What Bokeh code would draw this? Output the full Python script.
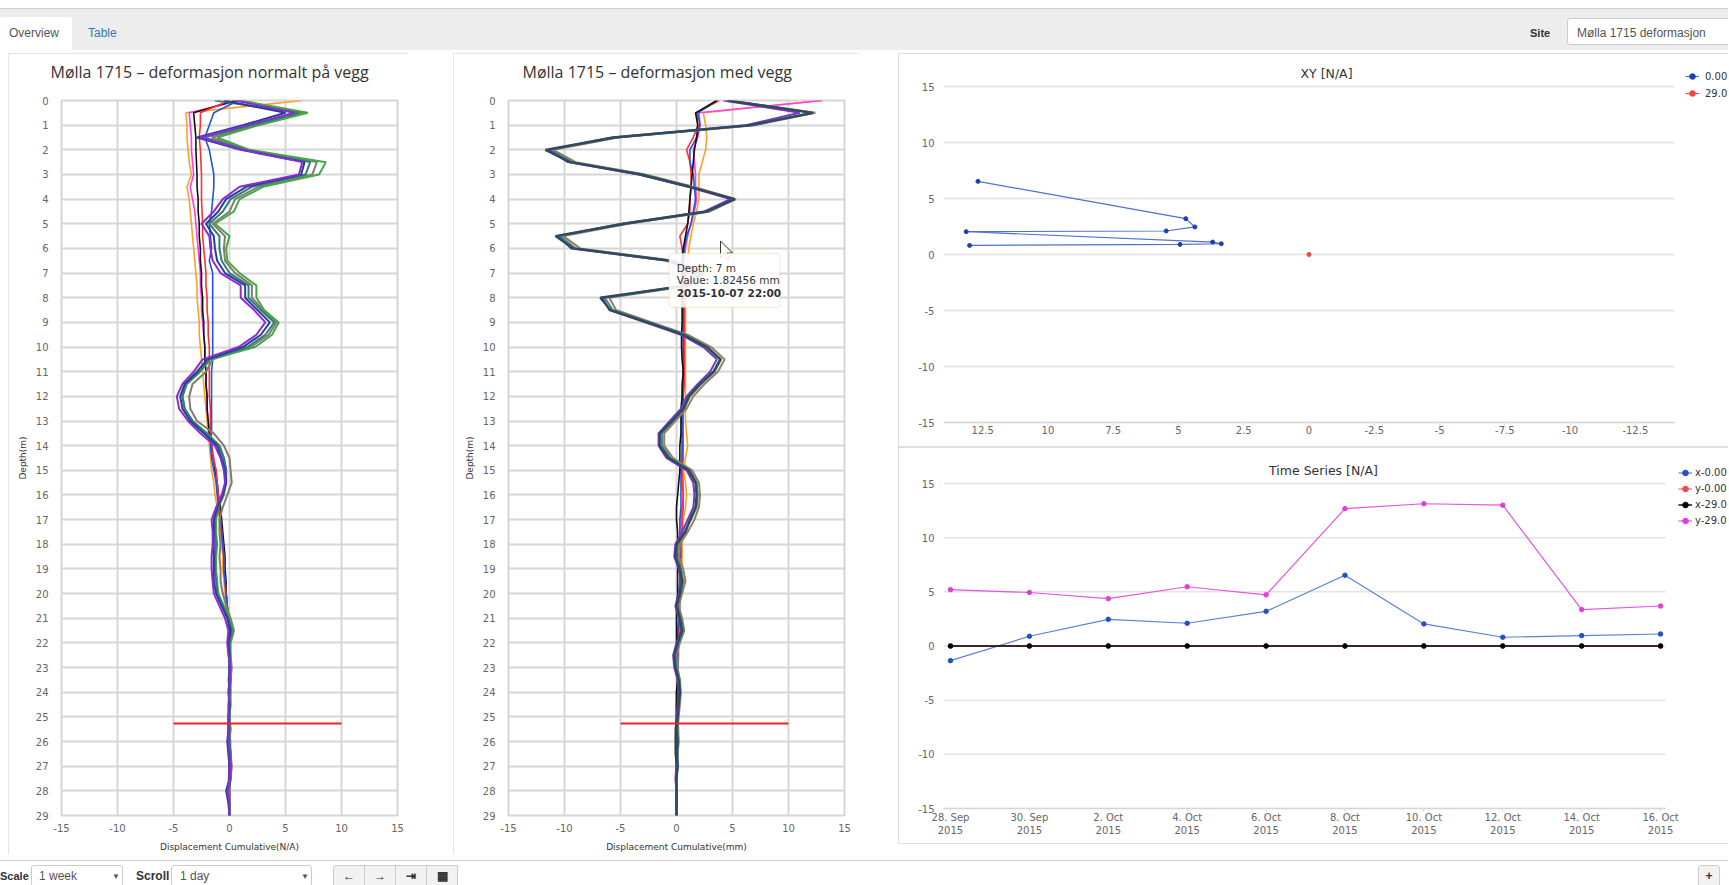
import pandas as pd
from bokeh.plotting import figure
from bokeh.layouts import column, row
from bokeh.models import (Div, Spacer, Range1d, FixedTicker, Legend, LegendItem,
                          BoxAnnotation, Label, Title)
from bokeh.embed import file_html
from bokeh.resources import INLINE

# ------------------------------------------------------------------ data
depths = [i * 0.5 for i in range(59)]          # 0 ... 29 m
depth_ticks = list(range(0, 30))
profile_x_ticks = [-15, -10, -5, 0, 5, 10, 15]
profile_x_labels = ["-15", "-10", "-5", "0", "5", "10", "15"]

# toe line (red) drawn in both profile charts
toe_depth = 25.27
toe_x = [-5, 10]

# ---- left profile: "deformasjon normalt på vegg"
n_orange = [6.5, -3.9, -3.8, -3.8, -3.7, -3.6, -3.4, -3.8, -3.6, -3.5,
            -3.4, -3.3, -3.2, -3.1, -3.0, -2.9, -2.9, -2.8, -2.7, -2.7,
            -2.6, -2.5, -2.4, -2.3, -2.2, -2.1, -2.0, -1.9, -1.8, -1.7,
            -1.6, -1.4, -1.3, -1.1, -0.9, -0.8, -0.7, -0.6, -0.6, -0.5,
            -0.4, -0.3, -0.2, -0.1, 0.0, 0.0, 0.1, 0.0, 0.0, 0.1,
            0.0, 0.1, 0.0, 0.1, 0.2, 0.1, 0.0, 0.0, 0.0]
n_magenta = [1.0, -3.6, -3.5, -3.4, -3.4, -3.3, -3.2, -3.5, -3.3, -3.1,
             -3.0, -2.9, -2.8, -2.7, -2.6, -2.6, -2.5, -2.5, -2.4, -2.3,
             -2.2, -2.2, -2.1, -2.1, -2.0, -2.0, -1.9, -1.8, -1.6, -1.4,
             -1.2, -1.1, -1.0, -0.9, -0.8, -0.7, -0.6, -0.5, -0.5, -0.4,
             -0.3, -0.2, -0.1, 0.0, 0.0, 0.1, 0.0, 0.0, 0.1, 0.0,
             0.0, 0.0, 0.1, 0.1, 0.0, -0.1, 0.0, 0.0, 0.0]
n_black = [0.5, -3.2, -3.1, -3.0, -3.0, -2.95, -2.9, -2.9, -2.8, -2.8,
           -2.7, -2.7, -2.6, -2.6, -2.5, -2.5, -2.4, -2.4, -2.3, -2.3,
           -2.2, -2.2, -2.1, -2.1, -2.0, -2.0, -1.9, -1.8, -1.6, -1.5,
           -1.3, -1.1, -1.0, -0.8, -0.7, -0.6, -0.5, -0.4, -0.4, -0.3,
           -0.3, -0.2, -0.1, 0.0, 0.0, 0.0, 0.0, 0.1, 0.0, 0.0,
           0.0, 0.0, 0.0, 0.0, 0.0, 0.0, 0.0, 0.0, 0.0]
n_red = [0.0, -2.6, -2.6, -2.7, -2.6, -2.55, -2.5, -2.5, -2.5, -2.45,
         -2.4, -2.4, -2.3, -2.2, -2.1, -2.1, -2.0, -2.0, -1.9, -1.9,
         -1.8, -1.8, -1.8, -1.8, -1.8, -1.7, -1.7, -1.7, -1.6, -1.5,
         -1.2, -1.1, -1.0, -0.9, -0.8, -0.7, -0.6, -0.5, -0.5, -0.4,
         -0.3, -0.2, -0.1, 0.0, 0.0, 0.0, 0.0, 0.0, 0.0, 0.0,
         0.0, 0.0, 0.0, 0.0, 0.0, 0.0, 0.0, 0.0, 0.0]
n_blue = [0.8, -1.4, -1.8, -2.2, -1.8, -1.6, -1.4, -1.4, -1.5, -1.6,
          -1.8, -1.7, -1.6, -1.8, -1.5, -1.5, -1.5, -1.5, -1.5, -1.5,
          -1.5, -1.5, -1.6, -1.6, -1.6, -1.6, -1.6, -1.6, -1.7, -1.6,
          -1.4, -1.2, -1.1, -1.0, -0.8, -0.7, -0.6, -0.5, -0.5, -0.4,
          -0.3, -0.2, -0.1, 0.0, -0.1, 0.0, 0.0, -0.1, 0.0, 0.0,
          -0.1, -0.1, -0.1, 0.0, 0.0, 0.0, -0.1, 0.0, 0.0]
n_purple = [0.5, 5.8, 1.6, -2.6, 1.2, 6.5, 6.2, 0.9, -0.6, -1.4,
            -2.5, -1.8, -1.7, -1.5, -0.8, 1.0, 1.0, 2.2, 3.2, 2.4,
            0.8, -2.4, -3.2, -4.2, -4.7, -4.5, -3.7, -2.6, -1.3, -0.8,
            -0.5, -0.4, -0.7, -1.2, -1.6, -1.5, -1.5, -1.6, -1.6, -1.5,
            -1.4, -0.9, -0.4, -0.1, -0.2, -0.1, 0.1, 0.0, 0.0, -0.1,
            -0.1, -0.1, -0.1, 0.0, 0.1, 0.0, -0.2, 0.0, 0.0]
n_navy = [-0.5, 5.0, 1.2, -2.9, 1.0, 6.7, 6.4, 1.5, -0.3, -1.0,
          -2.1, -1.4, -1.3, -1.1, -0.4, 1.4, 1.4, 2.5, 3.6, 2.8,
          1.2, -2.0, -2.9, -4.0, -4.4, -4.2, -3.5, -2.3, -1.1, -0.7,
          -0.4, -0.3, -0.6, -1.1, -1.4, -1.4, -1.4, -1.4, -1.4, -1.4,
          -1.2, -0.7, -0.2, 0.1, -0.1, 0.0, 0.0, 0.0, -0.1, 0.0,
          -0.1, -0.1, -0.2, -0.1, 0.0, 0.0, -0.3, -0.1, 0.0]
n_teal = [-1.3, 6.2, 2.0, -2.3, 1.4, 7.2, 6.8, 2.0, 0.1, -0.6,
          -1.8, -0.9, -0.9, -0.7, 0.0, 1.7, 1.7, 2.8, 4.0, 3.2,
          1.6, -1.8, -2.7, -3.9, -4.2, -4.0, -3.3, -2.1, -0.9, -0.5,
          -0.3, -0.3, -0.6, -1.0, -1.3, -1.3, -1.2, -1.3, -1.3, -1.2,
          -1.1, -0.6, -0.1, 0.2, 0.0, 0.0, 0.0, 0.1, 0.0, 0.0,
          0.0, 0.0, 0.0, 0.1, 0.1, 0.1, -0.1, 0.0, 0.0]
n_gray = [0.8, 6.6, 2.2, -1.6, 1.6, 7.8, 7.4, 2.6, 0.5, 0.0,
          -1.5, -0.4, -0.5, -0.4, 0.5, 2.0, 2.0, 3.0, 4.2, 3.5,
          1.9, -1.5, -2.1, -3.3, -3.6, -3.5, -2.9, -1.4, -0.5, 0.0,
          0.1, 0.2, -0.2, -0.6, -0.9, -0.9, -0.8, -0.9, -0.8, -0.8,
          -0.6, -0.3, 0.1, 0.4, 0.1, 0.1, 0.2, 0.1, 0.1, 0.1,
          0.0, 0.1, 0.0, 0.1, 0.2, 0.1, 0.0, 0.0, 0.0]
n_green = [1.0, 7.0, 2.6, -1.1, 1.8, 8.6, 8.0, 3.0, 0.9, 0.4,
           -1.3, 0.0, -0.3, -0.2, 0.9, 2.4, 2.4, 3.1, 4.4, 3.8,
           2.3, -1.7, -2.6, -3.8, -4.2, -4.0, -3.3, -2.0, -0.9, -0.5,
           -0.3, -0.3, -0.5, -1.0, -1.2, -1.2, -1.1, -1.2, -1.2, -1.1,
           -1.0, -0.5, 0.0, 0.3, 0.0, 0.0, 0.1, 0.0, 0.0, 0.0,
           0.0, 0.0, 0.0, 0.1, 0.1, 0.1, -0.1, 0.0, 0.0]

# ---- middle profile: "deformasjon med vegg"
m_orange = [13.0, 2.4, 2.6, 2.7, 2.6, 2.3, 2.0, 2.0, 2.0, 1.8,
            1.5, 1.3, 1.1, 1.0, 0.9, 0.8, 0.8, 0.8, 0.8, 0.8,
            0.8, 0.8, 0.8, 0.8, 0.8, 0.8, 0.8, 0.9, 1.0, 0.8,
            0.6, 0.8, 0.9, 0.8, 0.6, 0.5, 0.5, 0.5, 0.5, 0.5,
            0.4, 0.3, 0.3, 0.3, 0.2, 0.2, 0.1, 0.1, 0.1, 0.1,
            0.1, 0.2, 0.2, 0.1, 0.1, 0.0, 0.0, 0.0, 0.0]
m_magenta = [13.0, 2.0, 2.1, 1.9, 1.5, 1.6, 1.7, 1.7, 1.8, 1.6,
             1.3, 1.0, 0.8, 0.7, 0.6, 0.6, 0.6, 0.6, 0.6, 0.6,
             0.6, 0.6, 0.6, 0.6, 0.5, 0.5, 0.5, 0.5, 0.5, 0.5,
             0.5, 0.6, 0.6, 0.5, 0.4, 0.4, 0.4, 0.4, 0.4, 0.3,
             0.3, 0.3, 0.2, 0.2, 0.2, 0.1, 0.1, 0.1, 0.1, 0.1,
             0.1, 0.1, 0.1, 0.1, 0.0, 0.0, 0.0, 0.0, 0.0]
m_black = [3.6, 1.7, 1.9, 1.8, 1.6, 1.5, 1.4, 1.3, 1.2, 1.1,
           1.0, 0.8, 0.6, 0.5, 0.5, 0.5, 0.5, 0.5, 0.5, 0.45,
           0.45, 0.5, 0.6, 0.5, 0.5, 0.4, 0.4, 0.4, 0.3, 0.3,
           0.3, 0.2, 0.1, 0.0, 0.0, 0.1, 0.1, 0.1, 0.1, 0.1,
           0.1, 0.0, 0.0, 0.0, 0.0, 0.0, 0.0, 0.1, 0.0, 0.0,
           0.0, -0.1, -0.1, -0.1, 0.0, 0.0, 0.0, 0.0, 0.0]
m_red = [3.8, 1.8, 1.9, 1.5, 0.9, 1.2, 1.3, 1.3, 1.2, 1.2,
         1.0, 0.3, 0.5, 0.6, 0.7, 0.7, 0.7, 0.7, 0.7, 0.7,
         0.7, 0.7, 0.7, 0.7, 0.6, 0.6, 0.6, 0.6, 0.6, 0.6,
         0.5, 0.5, 0.6, 0.6, 0.5, 0.5, 0.4, 0.4, 0.3, 0.3,
         0.3, 0.2, 0.2, 0.2, 0.1, 0.1, 0.1, 0.1, 0.0, 0.0,
         0.0, 0.0, 0.0, 0.0, 0.0, 0.0, 0.0, 0.0, 0.0]
m_blue = [3.6, 1.9, 2.1, 1.8, 1.2, 1.2, 1.5, 1.6, 1.7, 1.5,
          1.3, 0.9, 0.7, 0.6, 0.6, 0.6, 0.6, 0.6, 0.6, 0.6,
          0.6, 0.6, 0.6, 0.6, 0.6, 0.5, 0.5, 0.5, 0.5, 0.5,
          0.4, 0.4, 0.4, 0.4, 0.3, 0.3, 0.3, 0.3, 0.3, 0.3,
          0.2, 0.2, 0.2, 0.1, 0.1, 0.1, 0.1, 0.1, 0.1, 0.0,
          0.0, 0.0, 0.0, 0.0, 0.0, 0.0, 0.0, 0.0, 0.0]
m_slate = [4.5, 12.2, 6.6, -5.6, -11.7, -9.5, -3.2, 1.2, 5.2, 2.7,
           -4.7, -10.8, -9.2, -0.6, 2.2, 1.0, -6.8, -5.9, -2.6, 0.6,
           2.7, 3.9, 3.3, 2.1, 1.1, 0.6, -0.4, -1.5, -1.5, -0.7,
           1.1, 1.7, 1.8, 1.7, 1.2, 0.8, 0.0, -0.1, 0.3, 0.5,
           0.3, 0.0, 0.3, 0.5, 0.1, -0.2, -0.1, 0.2, 0.3, 0.2,
           0.1, 0.0, 0.1, 0.0, 0.1, 0.0, 0.0, 0.0, 0.0]
m_purple = [4.2, 11.0, 6.2, -5.8, -11.4, -9.7, -3.4, 1.0, 4.8, 2.5,
            -4.9, -10.6, -9.4, -0.8, 1.8, 0.8, -6.6, -6.0, -2.8, 0.4,
            2.4, 3.6, 3.0, 1.9, 0.9, 0.4, -0.6, -1.6, -1.6, -0.9,
            0.9, 1.5, 1.6, 1.5, 1.0, 0.5, -0.1, -0.2, 0.2, 0.4,
            0.2, -0.1, 0.2, 0.4, 0.0, -0.3, -0.2, 0.1, 0.2, 0.1,
            0.0, 0.0, 0.0, 0.0, 0.0, -0.1, 0.0, 0.0, 0.0]
m_teal = [4.6, 12.0, 6.8, -5.4, -11.3, -9.3, -3.0, 1.3, 5.1, 2.8,
          -4.5, -10.4, -9.0, -0.4, 2.3, 1.1, -6.4, -5.7, -2.4, 0.8,
          2.8, 4.0, 3.4, 2.2, 1.2, 0.7, -0.3, -1.3, -1.3, -0.5,
          1.2, 1.8, 1.9, 1.8, 1.3, 0.7, 0.1, 0.0, 0.4, 0.6,
          0.4, 0.1, 0.4, 0.6, 0.2, -0.1, 0.0, 0.3, 0.3, 0.2,
          0.1, 0.1, 0.1, 0.1, 0.1, 0.0, 0.0, 0.0, 0.0]
m_brown = [4.8, 12.4, 7.0, -5.2, -11.0, -9.0, -2.8, 1.5, 5.3, 3.0,
           -4.3, -10.1, -8.6, -0.2, 2.5, 1.3, -6.0, -5.4, -2.2, 1.0,
           3.1, 4.3, 3.7, 2.5, 1.5, 0.9, -0.1, -1.1, -1.1, -0.3,
           1.4, 2.0, 2.1, 2.0, 1.6, 1.0, 0.3, 0.2, 0.6, 0.8,
           0.5, 0.2, 0.5, 0.7, 0.3, 0.0, 0.1, 0.3, 0.4, 0.3,
           0.2, 0.1, 0.2, 0.1, 0.1, 0.0, 0.0, 0.0, 0.0]

# hovered point (tooltip) in the middle chart
tip_depth = 7
tip_value = 1.82456
tip_time = "2015-10-07 22:00"
# mouse pointer seen in the screenshot: tip position (data) and arrow outline (px)
cursor_tip = (3.93, 5.7)
cursor_dx = [0, 0, 4, 7, 9.5, 6.5, 12]
cursor_dy = [0, 17, 13, 19, 18, 12, 12]

# ---- XY chart
xy_x = [12.68, 4.72, 4.37, 5.47, 13.13, 3.69, 3.36, 4.94, 13.0]
xy_y = [6.53, 3.2, 2.46, 2.1, 2.04, 1.11, 0.96, 0.9, 0.81]
xy29_x = [0.0]
xy29_y = [0.0]
xy_ticks = [12.5, 10, 7.5, 5, 2.5, 0, -2.5, -5, -7.5, -10, -12.5]
xy_tick_labels = ["12.5", "10", "7.5", "5", "2.5", "0", "-2.5", "-5", "-7.5", "-10", "-12.5"]
xy_x_limits = (14, -14)          # plotted x extent (reversed axis)
y_ticks_hc = [-15, -10, -5, 0, 5, 10, 15]
y_tick_labels_hc = ["-15", "-10", "-5", "0", "5", "10", "15"]

# ---- Time series chart
ts_dates = ["2015-09-28", "2015-09-30", "2015-10-02", "2015-10-04", "2015-10-06",
            "2015-10-08", "2015-10-10", "2015-10-12", "2015-10-14", "2015-10-16"]
ts_tick_labels = ["28. Sep\n2015", "30. Sep\n2015", "2. Oct\n2015", "4. Oct\n2015",
                  "6. Oct\n2015", "8. Oct\n2015", "10. Oct\n2015", "12. Oct\n2015",
                  "14. Oct\n2015", "16. Oct\n2015"]
ts_limits = ("2015-09-27 19:45", "2015-10-16 03:00")
ts_x_000 = [-1.35, 0.9, 2.46, 2.1, 3.2, 6.53, 2.04, 0.81, 0.96, 1.11]
ts_y_000 = [0.0, 0.0, 0.0, 0.0, 0.0, 0.0, 0.0, 0.0, 0.0, 0.0]
ts_x_290 = [0.0, 0.0, 0.0, 0.0, 0.0, 0.0, 0.0, 0.0, 0.0, 0.0]
ts_y_290 = [5.2, 4.94, 4.37, 5.47, 4.72, 12.68, 13.13, 13.0, 3.36, 3.69]

for arr in (n_orange, n_magenta, n_black, n_red, n_blue, n_purple, n_navy, n_teal,
            n_gray, n_green, m_orange, m_magenta, m_black, m_red, m_blue, m_slate,
            m_purple, m_teal, m_brown):
    if len(arr) != len(depths):
        raise ValueError("profile length mismatch: %d" % len(arr))

# ------------------------------------------------------------------ helpers
GRID = "#d6d6d6"
PANEL = {"outline": "1px solid #dedede", "outline-offset": "-1px"}
RIGHT_PANEL = {"box-shadow": "inset 1px 1px 0 #dedede, inset 0 -1px 0 #dedede"}
PX_PER_UNIT_X = 336 / 30.0     # profile frame: 336 px for 30 units
PX_PER_UNIT_Y = 715 / 29.0     # profile frame: 715 px for 29 m


def profile_figure(title, title_offset, xlabel, b_left, b_right):
    p = figure(frame_width=336, frame_height=715,
               min_border_left=b_left, min_border_right=b_right,
               min_border_top=47, min_border_bottom=36,
               x_range=Range1d(-15, 15), y_range=Range1d(29, 0),
               output_backend="svg", toolbar_location=None, title=None)
    # invisible spacer title (closest to the frame), then the real title above it
    p.add_layout(Title(text=" ", text_font_size="1px", standoff=9), "above")
    p.add_layout(Title(text=title, align="left", offset=title_offset,
                       text_font="Open Sans", text_font_size="16px",
                       text_font_style="normal", text_color="#333333",
                       standoff=10, vertical_align="middle"), "above")
    p.xaxis.ticker = FixedTicker(ticks=profile_x_ticks)
    p.xaxis.major_label_overrides = {float(t): s for t, s in zip(profile_x_ticks, profile_x_labels)}
    p.yaxis.ticker = FixedTicker(ticks=depth_ticks)
    for ax in (p.xaxis[0], p.yaxis[0]):
        ax.axis_line_color = None
        ax.major_tick_line_color = None
        ax.minor_tick_line_color = None
        ax.major_tick_in = 0
        ax.major_tick_out = 0
        ax.major_label_text_font = "DejaVu Sans"
        ax.major_label_text_font_size = "10px"
        ax.major_label_text_color = "#666666"
        ax.axis_label_text_font = "DejaVu Sans"
        ax.axis_label_text_font_size = "9px"
        ax.axis_label_text_font_style = "normal"
        ax.axis_label_text_color = "#333333"
    p.xaxis.axis_label = xlabel
    p.yaxis.axis_label = "Depth(m)"
    p.xaxis.major_label_standoff = 8
    p.xaxis.axis_label_standoff = 7
    p.yaxis.major_label_standoff = 13
    p.yaxis.axis_label_standoff = 5
    p.grid.grid_line_color = GRID
    p.grid.grid_line_width = 2
    p.outline_line_color = GRID
    p.outline_line_width = 2
    p.styles = PANEL
    return p


# right-hand charts: the frame covers the whole chart box (so that title and legend,
# which Highcharts draws outside the plot area, are not clipped); the plotted area is
# marked by the grid lines and the bounded x axis.
FRAME_W = 785


def hc_figure(x_range, y_range, frame_h, b_bottom, x_type="linear"):
    p = figure(frame_width=FRAME_W, frame_height=frame_h, min_border_left=45,
               min_border_right=0, min_border_top=0, min_border_bottom=b_bottom,
               x_range=x_range, y_range=y_range, x_axis_type=x_type,
               output_backend="svg", toolbar_location=None)
    p.grid.grid_line_color = None
    p.outline_line_color = None
    p.background_fill_color = None
    p.border_fill_color = None
    p.yaxis.ticker = FixedTicker(ticks=y_ticks_hc)
    p.yaxis.major_label_overrides = {float(t): s for t, s in zip(y_ticks_hc, y_tick_labels_hc)}
    p.yaxis.axis_line_color = None
    p.yaxis.major_tick_line_color = None
    p.yaxis.minor_tick_line_color = None
    p.yaxis.major_tick_out = 0
    p.yaxis.major_label_standoff = 9
    p.xaxis.axis_line_color = "#d6d6d6"
    p.xaxis.axis_line_width = 1.5
    p.xaxis.major_tick_line_color = "#dcdcdc"
    p.xaxis.major_tick_in = 0
    p.xaxis.major_tick_out = 3
    p.xaxis.minor_tick_line_color = None
    p.xaxis.major_label_standoff = 0
    for ax in (p.xaxis[0], p.yaxis[0]):
        ax.major_label_text_font = "DejaVu Sans"
        ax.major_label_text_font_size = "10px"
        ax.major_label_text_color = "#666666"
    p.styles = RIGHT_PANEL
    return p


def hc_grid(p, x0, x1):
    p.segment(x0=[x0] * len(y_ticks_hc), x1=[x1] * len(y_ticks_hc),
              y0=y_ticks_hc, y1=y_ticks_hc, line_color="#e3e3e3", line_width=1.5)


def hc_title(p, x, y, text):
    p.add_layout(Label(x=x, y=y, text=text, text_align="center", text_baseline="middle",
                       text_font="DejaVu Sans", text_font_size="12.5px",
                       text_color="#333333"))


def hc_legend(p, entries, vx, vy, glyph_h, standoff):
    p.add_layout(Legend(items=[LegendItem(label=lab, renderers=rs) for lab, rs in entries],
                        location=(vx, vy), background_fill_alpha=0, border_line_alpha=0,
                        padding=0, margin=0, spacing=1, glyph_width=14,
                        glyph_height=glyph_h, label_height=glyph_h, label_standoff=standoff,
                        label_text_font="DejaVu Sans", label_text_font_size="10px",
                        label_text_color="#333333"))


# ------------------------------------------------------------------ left profile
left = profile_figure("Mølla 1715 – deformasjon normalt på vegg", -11,
                      "Displacement Cumulative(N/A)", 53, 11)
for vals, col, w in ((n_orange, "#ffa023", 1.6), (n_magenta, "#ff3af0", 1.6),
                     (n_black, "#111111", 1.6), (n_red, "#ff3030", 1.6),
                     (n_blue, "#2255dd", 1.6),
                     (n_gray, "#857a6c", 2.0), (n_green, "#45a845", 2.0),
                     (n_teal, "#2a7f78", 2.0), (n_navy, "#2b3e93", 2.0),
                     (n_purple, "#8a2bd6", 2.0)):
    left.line(vals, depths, line_color=col, line_width=w)
left.line(toe_x, [toe_depth, toe_depth], line_color="#ee2222", line_width=2)

# ------------------------------------------------------------------ middle profile
mid = profile_figure("Mølla 1715 – deformasjon med vegg", 14,
                     "Displacement Cumulative(mm)", 55, 14)
for vals, col, w in ((m_orange, "#ffa023", 1.6), (m_magenta, "#ff3af0", 1.6),
                     (m_red, "#ff3030", 1.6), (m_blue, "#2255dd", 1.6),
                     (m_black, "#111111", 1.6),
                     (m_brown, "#9a7d5e", 2.0), (m_teal, "#3a8a86", 2.0),
                     (m_purple, "#7a35c4", 2.0), (m_slate, "#2e4b5c", 2.4)):
    mid.line(vals, depths, line_color=col, line_width=w)
mid.line(toe_x, [toe_depth, toe_depth], line_color="#ee2222", line_width=2)

# tooltip of the hovered point
mid.add_layout(BoxAnnotation(left=tip_value - 2.5, right=tip_value + 7.4,
                             top=tip_depth - 0.8, bottom=tip_depth + 1.4,
                             fill_color="#ffffff", fill_alpha=0.88,
                             line_color="#f4a65c", line_width=1, border_radius=3))
for i, (txt, bold) in enumerate(((f"Depth: {tip_depth} m", False),
                                 (f"Value: {tip_value} mm", False),
                                 (tip_time, True))):
    mid.add_layout(Label(x=tip_value - 1.8, y=tip_depth - 0.2 + 0.5 * i, text=txt,
                         text_font="DejaVu Sans", text_font_size="10.5px",
                         text_color="#333333", text_baseline="middle",
                         text_font_style="bold" if bold else "normal"))
mid.patch([cursor_tip[0] + dx / PX_PER_UNIT_X for dx in cursor_dx],
          [cursor_tip[1] + dy / PX_PER_UNIT_Y for dy in cursor_dy],
          fill_color="#ffffff", line_color="#333333", line_width=1)

# ------------------------------------------------------------------ XY chart
XY_PLOT_W, XY_PLOT_H, XY_FRAME_H = 731, 336, 369
x0, x1 = xy_x_limits
xy_xr = Range1d(x0, x0 + (x1 - x0) * FRAME_W / XY_PLOT_W)
xy_yr = Range1d(-15, -15 + 30 * XY_FRAME_H / XY_PLOT_H)
xy = hc_figure(xy_xr, xy_yr, XY_FRAME_H, 25)
xy.xaxis.ticker = FixedTicker(ticks=xy_ticks)
xy.xaxis.major_label_overrides = {float(t): s for t, s in zip(xy_ticks, xy_tick_labels)}
xy.xaxis.bounds = (min(xy_x_limits), max(xy_x_limits))
hc_grid(xy, x0, x1)
l0 = xy.line(xy_x, xy_y, line_color="#4f6fd2", line_width=1.2)
s0 = xy.scatter(xy_x, xy_y, size=4, color="#1d3fae")
l29 = xy.line(xy29_x, xy29_y, line_color="#ee4444", line_width=1.2)
s29 = xy.scatter(xy29_x, xy29_y, size=4, color="#ee4444")
hc_title(xy, x0 + (x1 - x0) * (1326 - 943) / XY_PLOT_W,
         -15 + 30 * (422 - 73) / XY_PLOT_H, "XY [N/A]")
hc_legend(xy, [("0.00", [l0, s0]), ("29.0", [l29, s29])], 742, 321, 16, 6)

# ------------------------------------------------------------------ Time series
TS_PLOT_W, TS_PLOT_H, TS_FRAME_H = 722, 325, 361
ts_x = pd.to_datetime(ts_dates)
epoch = pd.Timestamp("1970-01-01")


def to_ms(d):
    return (pd.Timestamp(d) - epoch).total_seconds() * 1000.0


ts_ms = [to_ms(d) for d in ts_dates]
t0, t1 = to_ms(ts_limits[0]), to_ms(ts_limits[1])
ts_xr = Range1d(t0, t0 + (t1 - t0) * FRAME_W / TS_PLOT_W)
ts_yr = Range1d(-15, -15 + 30 * TS_FRAME_H / TS_PLOT_H)
ts = hc_figure(ts_xr, ts_yr, TS_FRAME_H, 36, x_type="datetime")
ts.xaxis.ticker = FixedTicker(ticks=ts_ms)
ts.xaxis.major_label_overrides = {m: s for m, s in zip(ts_ms, ts_tick_labels)}
ts.xaxis.bounds = (t0, t1)
hc_grid(ts, t0, t1)
ts_series = (("x-0.00", ts_x_000, "#5b80d8", "#2650c8", 1.2),
             ("y-0.00", ts_y_000, "#f04a4a", "#f04a4a", 1.0),
             ("x-29.0", ts_x_290, "#000000", "#000000", 1.4),
             ("y-29.0", ts_y_290, "#e654dc", "#e040d6", 1.2))
ts_entries = []
for lab, vals, lc, mc, lw in ts_series:
    rl = ts.line(ts_x, vals, line_color=lc, line_width=lw)
    rs = ts.scatter(ts_x, vals, size=4.5, color=mc)
    ts_entries.append((lab, [rl, rs]))
hc_title(ts, t0 + (t1 - t0) * (1323 - 943) / TS_PLOT_W,
         -15 + 30 * (808 - 470) / TS_PLOT_H, "Time Series [N/A]")
hc_legend(ts, ts_entries, 735, 280, 15, 3)

# ------------------------------------------------------------------ page chrome
FONT = "font-family:'Liberation Sans',Arial,sans-serif;"
header_html = f"""
<div style="position:relative;width:1728px;height:53px;overflow:hidden;{FONT}">
  <div style="position:absolute;left:0;top:8px;width:1728px;height:42px;background:#ededed;border-top:1px solid #d2d2d2;box-sizing:border-box;"></div>
  <div style="position:absolute;left:0;top:17px;width:72px;height:33px;background:#ffffff;border-radius:3px 3px 0 0;"></div>
  <div style="position:absolute;left:9px;top:25px;font-size:12px;color:#555555;">Overview</div>
  <div style="position:absolute;left:88px;top:25px;font-size:12px;color:#337ab7;">Table</div>
  <div style="position:absolute;left:1530px;top:26px;font-size:11px;font-weight:bold;color:#333333;">Site</div>
  <div style="position:absolute;left:1567px;top:18px;width:170px;height:27px;background:#ffffff;border:1px solid #cccccc;border-radius:3px;box-sizing:border-box;"></div>
  <div style="position:absolute;left:1577px;top:25px;font-size:12px;color:#555555;">Mølla 1715 deformasjon</div>
</div>"""

btn = ("position:absolute;top:11px;width:32px;height:24px;background:#f2f2f2;"
       "border:1px solid #cccccc;box-sizing:border-box;text-align:center;"
       "font-size:12px;font-weight:bold;color:#333;line-height:20px;")
footer_html = f"""
<div style="position:relative;width:1728px;height:31px;overflow:hidden;{FONT}font-size:12px;line-height:14px;color:#333333;">
  <div style="position:absolute;left:0;top:6px;width:1728px;height:0;border-top:1px solid #cfcfcf;"></div>
  <div style="position:absolute;left:0;top:15px;font-weight:bold;font-size:11px;">Scale</div>
  <div style="position:absolute;left:31px;top:11px;width:92px;height:22px;border:1px solid #cccccc;border-radius:3px;box-sizing:border-box;"></div>
  <div style="position:absolute;left:39px;top:15px;color:#555555;">1 week</div>
  <div style="position:absolute;left:112px;top:16px;font-size:8px;color:#555555;">&#9660;</div>
  <div style="position:absolute;left:136px;top:15px;font-weight:bold;">Scroll</div>
  <div style="position:absolute;left:171px;top:11px;width:141px;height:22px;border:1px solid #cccccc;border-radius:3px;box-sizing:border-box;"></div>
  <div style="position:absolute;left:180px;top:15px;color:#555555;">1 day</div>
  <div style="position:absolute;left:301px;top:16px;font-size:8px;color:#555555;">&#9660;</div>
  <div style="{btn}left:333px;border-radius:3px 0 0 3px;">&#8592;</div>
  <div style="{btn}left:364px;">&#8594;</div>
  <div style="{btn}left:395px;">&#8677;</div>
  <div style="{btn}left:426px;">&#9638;</div>
  <div style="{btn}left:1698px;width:22px;border-radius:3px;">+</div>
</div>"""

header = Div(text=header_html, width=1728, height=53, margin=0)
footer = Div(text=footer_html, width=1728, height=31, margin=0)

layout = column(
    header,
    row(Spacer(width=8, height=798), left, Spacer(width=45, height=798), mid,
        Spacer(width=40, height=798), column(xy, ts)),
    footer,
)

open("out.html", "w").write(file_html(layout, INLINE, "Mølla 1715"))
